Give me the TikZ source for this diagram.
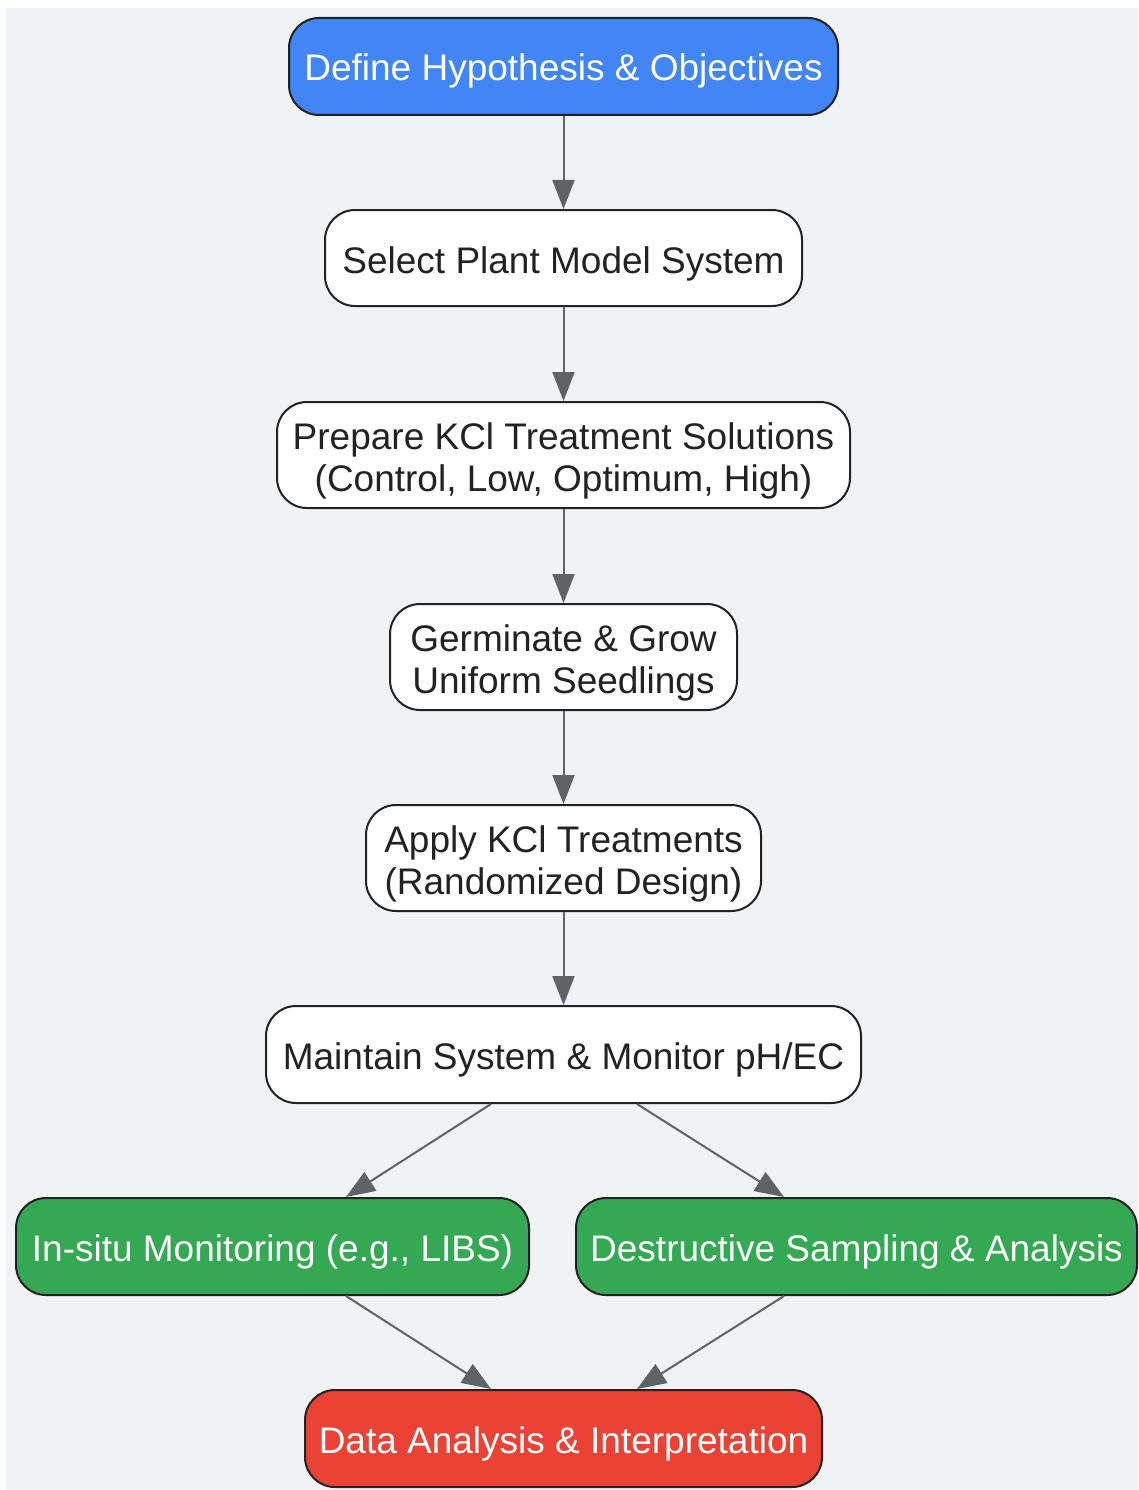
\documentclass[tikz,border=0pt]{standalone}
\usepackage{fontspec}
\setmainfont{Liberation Sans}
\usetikzlibrary{arrows.meta}
\definecolor{bgc}{HTML}{F1F2F4}
\definecolor{bluec}{HTML}{4285F4}
\definecolor{greenc}{HTML}{34A853}
\definecolor{redc}{HTML}{EA4335}
\definecolor{edgec}{HTML}{5F6368}
\definecolor{borderc}{HTML}{222222}
\definecolor{textc}{HTML}{222222}
% text block whose last baseline lies #1/2 below the node centre
\newcommand{\blk}[2]{\raisebox{0pt}[#1][0pt]{\begin{tabular}[b]{@{}c@{}}#2\end{tabular}}}
\begin{document}
\begin{tikzpicture}[x=1pt,y=-1pt,
  box/.style={rectangle, rounded corners=30pt, draw=borderc, line width=2pt,
    fill=white, text=textc, inner sep=0pt, align=center,
    font=\fontsize{37}{42}\selectfont},
  bluebox/.style={box, fill=bluec, text=white},
  greenbox/.style={box, fill=greenc, text=white},
  redbox/.style={box, fill=redc, text=white},
  arr/.style={draw=edgec, line width=2pt, -{Triangle[length=29pt,width=22pt]}, fill=edgec}
]
\useasboundingbox (0,0) rectangle (1138,1490);
\fill[white] (0,0) rectangle (1138,1490);
\fill[bgc] (6,8) rectangle (1138,1490);

\node[bluebox, minimum width=549pt, minimum height=97pt] (def) at (563.5,66.5) {\blk{29pt}{Define Hypothesis \& Objectives}};
\node[box, minimum width=477pt, minimum height=96pt] (sel) at (563.5,258) {\blk{30pt}{Select Plant Model System}};
\node[box, minimum width=573pt, minimum height=106pt] (prep) at (563.5,455) {\blk{72pt}{Prepare KCl Treatment Solutions\\(Control, Low, Optimum, High)}};
\node[box, minimum width=347pt, minimum height=106pt] (germ) at (563.5,657) {\blk{72pt}{Germinate \& Grow\\Uniform Seedlings}};
\node[box, minimum width=395pt, minimum height=106pt] (apply) at (563.5,858) {\blk{72pt}{Apply KCl Treatments\\(Randomized Design)}};
\node[box, minimum width=595pt, minimum height=97pt] (maint) at (563.5,1054.5) {\blk{29pt}{Maintain System \& Monitor pH/EC}};
\node[greenbox, minimum width=513pt, minimum height=97pt] (insitu) at (272.5,1246.5) {\blk{29pt}{In-situ Monitoring (e.g., LIBS)}};
\node[greenbox, minimum width=561pt, minimum height=97pt] (destr) at (856.5,1246.5) {\blk{29pt}{Destructive Sampling \& Analysis}};
\node[redbox, minimum width=517pt, minimum height=97pt] (data) at (563.5,1438.5) {\blk{29pt}{Data Analysis \& Interpretation}};

\draw[arr] (def.south) -- (sel.north);
\draw[arr] (sel.south) -- (prep.north);
\draw[arr] (prep.south) -- (germ.north);
\draw[arr] (germ.south) -- (apply.north);
\draw[arr] (apply.south) -- (maint.north);
\draw[arr] ([xshift=-72.5pt]maint.south) -- ([xshift=73.5pt]insitu.north);
\draw[arr] ([xshift=73.5pt]maint.south) -- ([xshift=-72.5pt]destr.north);
\draw[arr] ([xshift=73.5pt]insitu.south) -- ([xshift=-72.5pt]data.north);
\draw[arr] ([xshift=-72.5pt]destr.south) -- ([xshift=73.5pt]data.north);
\end{tikzpicture}
\end{document}
